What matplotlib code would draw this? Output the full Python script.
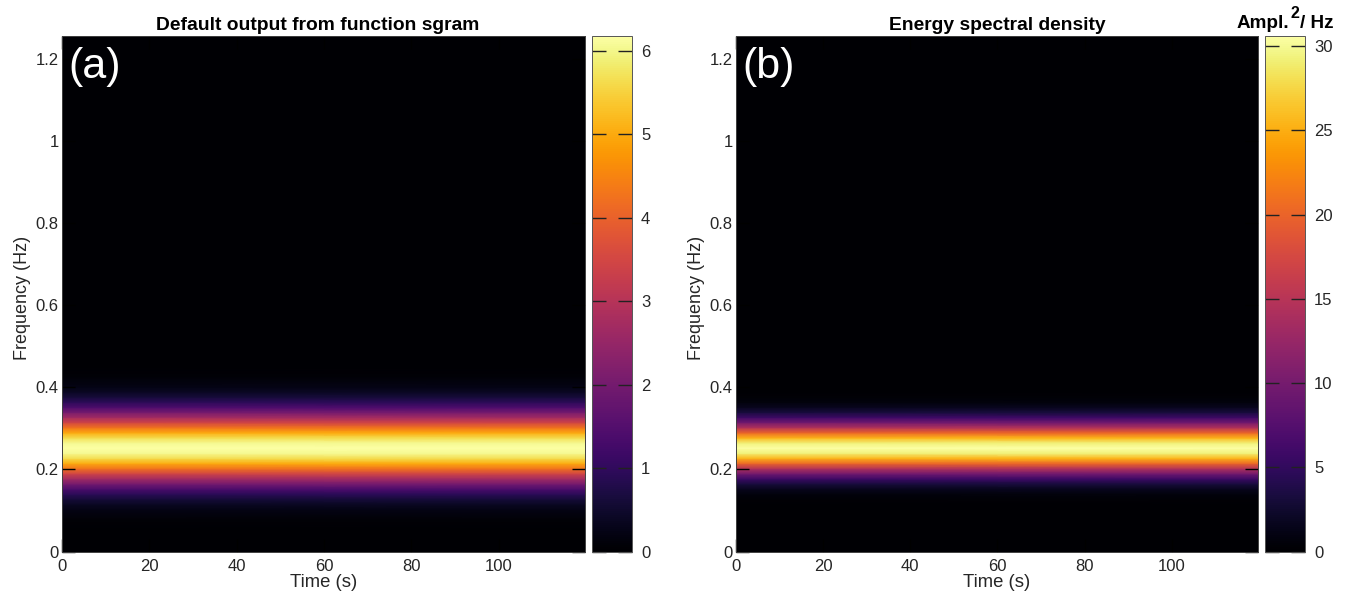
import matplotlib
matplotlib.use("Agg")
import numpy as np
import matplotlib.pyplot as plt

plt.rcParams['font.family'] = ['Liberation Sans', 'DejaVu Sans']

# frequency nodes (Hz)
freq = [0, 0.002, 0.027, 0.052, 0.077, 0.102, 0.1145, 0.127, 0.1395, 0.152, 0.1645, 0.177,
        0.1895, 0.202, 0.2145, 0.227, 0.2395, 0.252, 0.2645, 0.277, 0.2895, 0.302, 0.3145,
        0.327, 0.3395, 0.352, 0.3645, 0.377, 0.3895, 0.402, 0.427, 0.452, 0.477, 0.502, 1.257]
time = [0, 120]
power_a = [0, 0, 0, 0.016, 0.065, 0.22, 0.37, 0.61, 0.94, 1.40, 1.98, 2.68, 3.45, 4.26,
           5.01, 5.63, 6.04, 6.18, 6.04, 5.63, 5.01, 4.26, 3.45, 2.68, 1.98, 1.40, 0.94,
           0.61, 0.37, 0.22, 0.065, 0.016, 0, 0, 0]
power_b = [0, 0, 0, 0, 0, 0.04, 0.11, 0.29, 0.70, 1.56, 3.15, 5.75, 9.6, 14.5, 20.1,
           25.4, 29.2, 30.6, 29.2, 25.4, 20.1, 14.5, 9.6, 5.75, 3.15, 1.56, 0.70, 0.29,
           0.11, 0.04, 0, 0, 0, 0, 0]
x_ticks = [0, 20, 40, 60, 80, 100]
y_ticks = [0, 0.2, 0.4, 0.6, 0.8, 1, 1.2]
y_labels = ['0', '0.2', '0.4', '0.6', '0.8', '1', '1.2']
cbar_ticks_a = [0, 1, 2, 3, 4, 5, 6]
cbar_ticks_b = [0, 5, 10, 15, 20, 25, 30]
titles = ['Default output from function sgram', 'Energy spectral density']
tags = ['(a)', '(b)']

W, H = 1348, 594
fig = plt.figure(figsize=(W / 100, H / 100), dpi=100)
TXT = '#262626'
TICK_FS = 12
LABEL_FS = 13.3
TITLE_FS = 13.9


def box(x0, y0, x1, y1):
    return [x0 / W, 1 - y1 / H, (x1 - x0) / W, (y1 - y0) / H]


def panel(ax_px, cax_px, values, vmax, cticks, title, tag, title_x):
    ax = fig.add_axes(box(*ax_px))
    Z = np.column_stack([values, values])
    m = ax.pcolormesh(time, freq, Z, shading='gouraud', cmap='inferno', vmin=0, vmax=vmax)
    ax.set_xlim(0, 119.8)
    ax.set_ylim(0, 1.257)
    ax.set_xticks(x_ticks)
    ax.set_yticks(y_ticks, y_labels)
    ax.tick_params(direction='in', length=9.5, width=1, color='black', top=True, right=True,
                   labelsize=TICK_FS, labelcolor=TXT)
    ax.tick_params(axis='x', pad=5.5)
    ax.tick_params(axis='y', pad=2.5)
    for s in ax.spines.values():
        s.set_color('#404040')
        s.set_linewidth(0.7)
    ax.set_xlabel('Time (s)', fontsize=LABEL_FS, color=TXT, labelpad=0)
    ax.set_ylabel('Frequency (Hz)', fontsize=LABEL_FS - 0.3, color=TXT, labelpad=3.5, y=0.492)
    ax.set_title(title, fontsize=TITLE_FS, fontweight='bold', color='black', pad=4, x=title_x)
    ax.text(0.012, 0.978, tag, transform=ax.transAxes, color='white', fontsize=31, va='top', ha='left')
    cax = fig.add_axes(box(*cax_px))
    cb = fig.colorbar(m, cax=cax)
    cb.set_ticks(cticks)
    cax.tick_params(axis='y', direction='in', length=10, width=1, left=True, right=True,
                    color='#222222', labelsize=TICK_FS, labelcolor=TXT, pad=6.5)
    cb.outline.set_edgecolor('#555555')
    cb.outline.set_linewidth(0.7)
    return ax, cax


panel((62, 36, 585, 551.5), (592, 36, 632, 551.5), power_a, 6.18, cbar_ticks_a, titles[0], tags[0], 0.4885)
panel((736, 36, 1258, 551.5), (1265, 36, 1305, 551.5), power_b, 30.6, cbar_ticks_b, titles[1], tags[1], 0.5)
for px, py, s, fs in [(1237, 28, 'Ampl.', 13.6), (1290.5, 18, '2', 11.5), (1299.5, 28, '/ Hz', 13.6)]:
    fig.text(px / W, 1 - py / H, s, ha='left', va='baseline', fontsize=fs, fontweight='bold', color='black')

fig.savefig('out.png', dpi=100)
